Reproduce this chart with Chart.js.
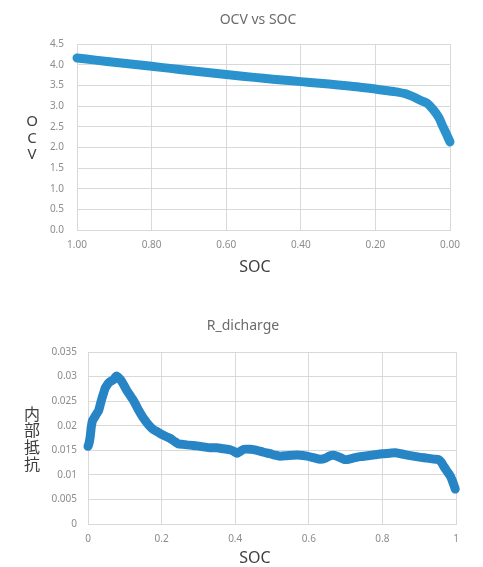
<!DOCTYPE html>
<html>
<head>
<meta charset="utf-8">
<script src="https://cdn.jsdelivr.net/npm/chart.js@4.4.1/dist/chart.umd.min.js"></script>
<style>
  html, body { margin: 0; padding: 0; background: #fff; overflow: hidden; }
  .bloc { position: absolute; left: 0; }
  #haut { top: 0; }
  #bas { top: 290px; filter: blur(0.4px); }
</style>
</head>
<body>
<div class="bloc" id="haut"><canvas id="graf_ocv" width="483" height="280"></canvas></div>
<div class="bloc" id="bas"><canvas id="graf_r" width="483" height="277"></canvas></div>
<script>
// OCV vs SOC
const soc_ocv = [1.00, 0.95, 0.90, 0.85, 0.80, 0.75, 0.70, 0.65, 0.60, 0.55, 0.50, 0.45, 0.40, 0.35,
  0.30, 0.25, 0.20, 0.15, 0.12, 0.10, 0.08, 0.062, 0.045, 0.03, 0.02, 0.01, 0.00];
const ocv = [4.16, 4.11, 4.06, 4.01, 3.96, 3.91, 3.86, 3.81, 3.76, 3.715, 3.67, 3.63, 3.59, 3.55,
  3.51, 3.465, 3.41, 3.35, 3.30, 3.23, 3.14, 3.07, 2.91, 2.72, 2.52, 2.33, 2.13];
const ticks_ocv = [0, 0.5, 1, 1.5, 2, 2.5, 3, 3.5, 4, 4.5];

// R_dicharge (résistance interne)
const soc_r = [0.000, 0.003, 0.006, 0.009, 0.012, 0.016, 0.020, 0.025, 0.029, 0.034, 0.038, 0.043,
  0.047, 0.052, 0.056, 0.063, 0.070, 0.077, 0.083, 0.088, 0.095, 0.100, 0.106, 0.115, 0.124, 0.133,
  0.142, 0.151, 0.160, 0.169, 0.178, 0.190, 0.201, 0.212, 0.224, 0.235, 0.246, 0.258, 0.269, 0.283,
  0.296, 0.314, 0.332, 0.350, 0.368, 0.387, 0.396, 0.405, 0.414, 0.423, 0.441, 0.459, 0.477, 0.495,
  0.508, 0.522, 0.540, 0.558, 0.576, 0.595, 0.613, 0.631, 0.645, 0.658, 0.667, 0.680, 0.699, 0.720,
  0.740, 0.760, 0.780, 0.800, 0.820, 0.835, 0.850, 0.876, 0.900, 0.921, 0.940, 0.953, 0.960, 0.967,
  0.975, 0.985, 0.990, 0.994, 0.998];
const r_dis = [0.0158, 0.0165, 0.0178, 0.0198, 0.0210, 0.0215, 0.0220, 0.0226, 0.0231, 0.0245, 0.0256, 0.0268,
  0.0277, 0.0283, 0.0287, 0.0291, 0.0294, 0.0301, 0.0298, 0.0294, 0.0286, 0.0279, 0.0271, 0.0261, 0.0251, 0.0238,
  0.0226, 0.0215, 0.0206, 0.0198, 0.0192, 0.0187, 0.0182, 0.0178, 0.0174, 0.0168, 0.0163, 0.0162, 0.0161, 0.0160,
  0.0159, 0.0157, 0.0155, 0.0155, 0.0153, 0.0151, 0.0148, 0.0144, 0.0148, 0.0152, 0.0152, 0.0150, 0.0146, 0.0143,
  0.0140, 0.0138, 0.0139, 0.0140, 0.0140, 0.0138, 0.0135, 0.0132, 0.0134, 0.0139, 0.0140, 0.0137, 0.0131, 0.0134,
  0.0137, 0.0139, 0.0141, 0.0143, 0.0144, 0.0145, 0.0143, 0.0139, 0.0136, 0.0134, 0.0132, 0.0131, 0.0126, 0.0117,
  0.0108, 0.0097, 0.0088, 0.0080, 0.0071];
const ticks_r = [0, 0.005, 0.01, 0.015, 0.02, 0.025, 0.03, 0.035];
const ticks_soc = [0, 0.2, 0.4, 0.6, 0.8, 1];

const police = "'Noto Sans', 'Noto Sans CJK JP', sans-serif";
const gris_grille = '#d9d9d9';
const gris_ticks = '#8c8c8c';

// textes posés à la main (titre, titres d'axes empilés)
const textes = {
  id: 'textes',
  afterDraw(chart, args, opts) {
    const ctx = chart.ctx;
    ctx.save();
    ctx.textAlign = 'center';
    ctx.textBaseline = 'middle';
    opts.items.forEach(t => {
      ctx.font = t.size + 'px ' + police;
      ctx.fillStyle = t.color;
      if (t.step) {
        Array.from(t.text).forEach((c, i) => ctx.fillText(c, t.x, t.y + i * t.step));
      } else {
        ctx.fillText(t.text, t.x, t.y);
      }
    });
    ctx.restore();
  }
};

function axe(min, max, ticks, fmt, pad, size, reverse) {
  return {
    type: 'linear',
    min: min,
    max: max,
    reverse: !!reverse,
    afterBuildTicks: s => { s.ticks = ticks.map(v => ({ value: v })); },
    afterFit: s => { if (s.isHorizontal()) s.height = size; else s.width = size; },
    ticks: {
      callback: fmt,
      padding: pad,
      color: gris_ticks,
      font: { family: police, size: 10 }
    },
    grid: { color: gris_grille, drawTicks: false },
    border: { color: gris_grille }
  };
}

new Chart(document.getElementById('graf_ocv'), {
  type: 'line',
  data: {
    datasets: [{
      data: soc_ocv.map((s, i) => ({ x: s, y: ocv[i] })),
      borderColor: '#2a92cc',
      borderWidth: 9,
      borderCapStyle: 'round',
      borderJoinStyle: 'round',
      pointRadius: 0,
      tension: 0.3,
      clip: false
    }]
  },
  options: {
    responsive: false,
    animation: false,
    layout: { padding: { left: 0, right: 33, top: 44, bottom: 0 } },
    plugins: {
      legend: { display: false },
      tooltip: { enabled: false },
      textes: {
        items: [
          { text: 'OCV vs SOC', x: 258, y: 20, size: 14, color: '#6b6b6b' },
          { text: 'SOC', x: 255, y: 267, size: 16, color: '#404040' },
          { text: 'OCV', x: 32, y: 122, size: 15, color: '#404040', step: 16.5 }
        ]
      }
    },
    scales: {
      x: axe(0, 1, ticks_soc, v => v.toFixed(2), 9, 50, true),
      y: axe(0, 4.5, ticks_ocv, v => v.toFixed(1), 13, 77)
    }
  },
  plugins: [textes]
});

new Chart(document.getElementById('graf_r'), {
  type: 'line',
  data: {
    datasets: [{
      data: soc_r.map((s, i) => ({ x: s, y: r_dis[i] })),
      borderColor: '#2785c6',
      borderWidth: 9,
      borderCapStyle: 'round',
      borderJoinStyle: 'round',
      pointRadius: 0,
      tension: 0.2,
      clip: false
    }]
  },
  options: {
    responsive: false,
    animation: false,
    layout: { padding: { left: 0, right: 27, top: 62, bottom: 0 } },
    plugins: {
      legend: { display: false },
      tooltip: { enabled: false },
      textes: {
        items: [
          { text: 'R_dicharge', x: 243, y: 36, size: 14, color: '#6b6b6b' },
          { text: 'SOC', x: 255, y: 268, size: 16, color: '#404040' },
          { text: '内部抵抗', x: 32, y: 125, size: 16, color: '#404040', step: 16.7 }
        ]
      }
    },
    scales: {
      x: axe(0, 1, ticks_soc, v => String(+v.toFixed(1)), 9, 43),
      y: axe(0, 0.035, ticks_r, v => String(+v.toFixed(3)), 11, 88)
    }
  },
  plugins: [textes]
});
</script>
</body>
</html>
